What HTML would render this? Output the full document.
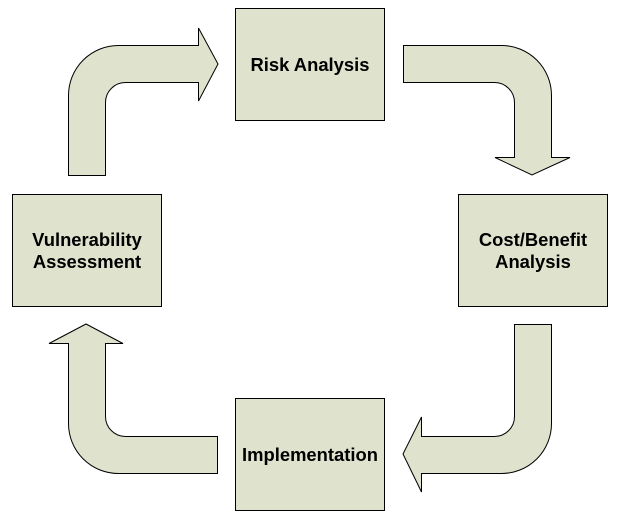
<!DOCTYPE html>
<html><head><style>body{margin:0;background:#fff}svg{display:block}</style></head><body>
<svg width="625" height="517" xmlns="http://www.w3.org/2000/svg" font-family="Liberation Sans, sans-serif" font-weight="bold" font-size="18.4" text-anchor="middle">
<g fill="#dfe2cd" stroke="#000" stroke-width="1">
<rect x="235.5" y="8.5" width="149" height="112"/>
<rect x="458.5" y="194.5" width="149" height="112"/>
<rect x="235.5" y="398.5" width="149" height="112"/>
<rect x="12.5" y="194.5" width="149" height="112"/>
<path d="M68.5 175.5 V95.5 A50 50 0 0 1 118.5 45.5 H198.5 V28 L218 64 L198.5 101 V82.5 H125.5 A20 20 0 0 0 105.5 102.5 V175.5 Z"/>
<path d="M403.5 45.5 H501.5 A50 50 0 0 1 551.5 95.5 V157.5 H570 L532 175 L495 157.5 H514.5 V102.5 A20 20 0 0 0 494.5 82.5 H403.5 Z"/>
<path d="M551.5 324.5 V423.5 A50 50 0 0 1 501.5 473.5 H421.5 V492 L403 454 L421.5 417 V436.5 H494.5 A20 20 0 0 0 514.5 416.5 V324.5 Z"/>
<path d="M217.5 473.5 H118.5 A50 50 0 0 1 68.5 423.5 V343.5 H49 L86 324 L123 343.5 H105.5 V416.5 A20 20 0 0 0 125.5 436.5 H217.5 Z"/>
</g>
<g fill="#000">
<text x="310" y="71">Risk Analysis</text>
<text x="533" y="246">Cost/Benefit</text>
<text x="533" y="268">Analysis</text>
<text x="310" y="461">Implementation</text>
<text x="87" y="246">Vulnerability</text>
<text x="87" y="268">Assessment</text>
</g>
</svg>
</body></html>
